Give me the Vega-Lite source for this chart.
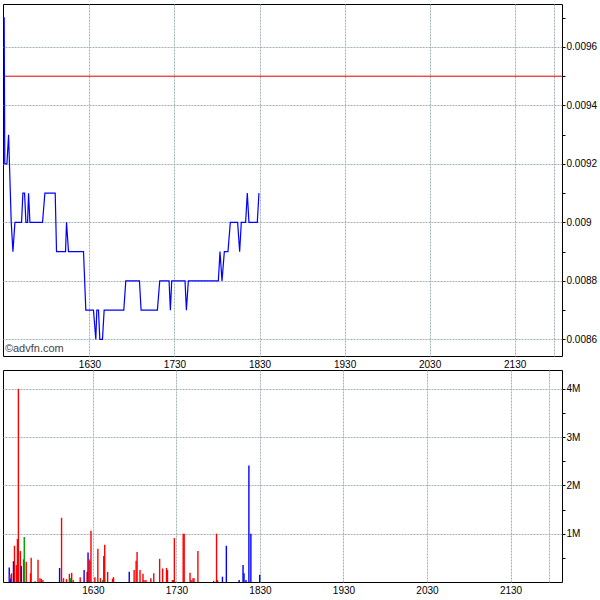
{
  "$schema": "https://vega.github.io/schema/vega-lite/v6.json",
  "padding": {"left": 0, "top": 3, "right": 0, "bottom": 0},
  "background": "white",
  "spacing": -1,
  "config": {
    "view": {"stroke": "#000", "strokeWidth": 1},
    "font": "Liberation Sans",
    "axis": {
      "labelFont": "Liberation Sans", "labelFontSize": 10, "labelColor": "#000",
      "domain": false, "gridColor": "#9fb3b3", "gridDash": [2, 1], "gridWidth": 1,
      "tickColor": "#000", "title": null
    }
  },
  "datasets": {
    "price": [
      {"t": "2024-01-02T15:29:20", "p": 0.0097},
      {"t": "2024-01-02T15:29:50", "p": 0.0097},
      {"t": "2024-01-02T15:30:15", "p": 0.0092},
      {"t": "2024-01-02T15:31:46", "p": 0.0092},
      {"t": "2024-01-02T15:32:56", "p": 0.0093},
      {"t": "2024-01-02T15:34:49", "p": 0.009},
      {"t": "2024-01-02T15:36:00", "p": 0.0089},
      {"t": "2024-01-02T15:37:25", "p": 0.009},
      {"t": "2024-01-02T15:42:06", "p": 0.009},
      {"t": "2024-01-02T15:43:02", "p": 0.0091},
      {"t": "2024-01-02T15:44:13", "p": 0.0091},
      {"t": "2024-01-02T15:45:10", "p": 0.009},
      {"t": "2024-01-02T15:46:20", "p": 0.009},
      {"t": "2024-01-02T15:47:02", "p": 0.0091},
      {"t": "2024-01-02T15:47:59", "p": 0.009},
      {"t": "2024-01-02T15:56:54", "p": 0.009},
      {"t": "2024-01-02T15:58:33", "p": 0.0091},
      {"t": "2024-01-02T16:05:50", "p": 0.0091},
      {"t": "2024-01-02T16:06:46", "p": 0.0089},
      {"t": "2024-01-02T16:13:07", "p": 0.0089},
      {"t": "2024-01-02T16:13:49", "p": 0.009},
      {"t": "2024-01-02T16:15:13", "p": 0.0089},
      {"t": "2024-01-02T16:25:48", "p": 0.0089},
      {"t": "2024-01-02T16:27:26", "p": 0.0087},
      {"t": "2024-01-02T16:32:50", "p": 0.0087},
      {"t": "2024-01-02T16:34:29", "p": 0.0086},
      {"t": "2024-01-02T16:35:11", "p": 0.0087},
      {"t": "2024-01-02T16:36:22", "p": 0.0087},
      {"t": "2024-01-02T16:37:19", "p": 0.0086},
      {"t": "2024-01-02T16:39:11", "p": 0.0086},
      {"t": "2024-01-02T16:40:22", "p": 0.0087},
      {"t": "2024-01-02T16:54:13", "p": 0.0087},
      {"t": "2024-01-02T16:55:38", "p": 0.0088},
      {"t": "2024-01-02T17:05:16", "p": 0.0088},
      {"t": "2024-01-02T17:06:26", "p": 0.0087},
      {"t": "2024-01-02T17:17:56", "p": 0.0087},
      {"t": "2024-01-02T17:19:35", "p": 0.0088},
      {"t": "2024-01-02T17:26:10", "p": 0.0088},
      {"t": "2024-01-02T17:27:06", "p": 0.0087},
      {"t": "2024-01-02T17:28:02", "p": 0.0088},
      {"t": "2024-01-02T17:37:26", "p": 0.0088},
      {"t": "2024-01-02T17:38:23", "p": 0.0087},
      {"t": "2024-01-02T17:39:47", "p": 0.0088},
      {"t": "2024-01-02T18:00:56", "p": 0.0088},
      {"t": "2024-01-02T18:02:06", "p": 0.0089},
      {"t": "2024-01-02T18:03:31", "p": 0.0088},
      {"t": "2024-01-02T18:05:10", "p": 0.0089},
      {"t": "2024-01-02T18:07:44", "p": 0.0089},
      {"t": "2024-01-02T18:09:23", "p": 0.009},
      {"t": "2024-01-02T18:14:33", "p": 0.009},
      {"t": "2024-01-02T18:15:58", "p": 0.0089},
      {"t": "2024-01-02T18:17:08", "p": 0.009},
      {"t": "2024-01-02T18:20:11", "p": 0.009},
      {"t": "2024-01-02T18:21:22", "p": 0.0091},
      {"t": "2024-01-02T18:22:32", "p": 0.009},
      {"t": "2024-01-02T18:28:25", "p": 0.009},
      {"t": "2024-01-02T18:29:35", "p": 0.0091}
    ],
    "refline": [{"p": 0.0095}],
    "credit": [{"t": "2024-01-02T15:30:20", "p": 0.008567, "label": "©advfn.com"}],
    "volume": [
      {"t": "2024-01-02T15:29:53", "v": 300000, "dir": "up"},
      {"t": "2024-01-02T15:30:22", "v": 150000, "dir": "down"},
      {"t": "2024-01-02T15:30:50", "v": 70000, "dir": "up"},
      {"t": "2024-01-02T15:31:32", "v": 180000, "dir": "down"},
      {"t": "2024-01-02T15:32:56", "v": 430000, "dir": "up"},
      {"t": "2024-01-02T15:33:39", "v": 750000, "dir": "down"},
      {"t": "2024-01-02T15:35:04", "v": 350000, "dir": "down"},
      {"t": "2024-01-02T15:35:46", "v": 890000, "dir": "down"},
      {"t": "2024-01-02T15:36:28", "v": 4000000, "dir": "down"},
      {"t": "2024-01-02T15:37:53", "v": 640000, "dir": "down"},
      {"t": "2024-01-02T15:38:35", "v": 330000, "dir": "up"},
      {"t": "2024-01-02T15:40:13", "v": 470000, "dir": "down"},
      {"t": "2024-01-02T15:40:41", "v": 930000, "dir": "flat"},
      {"t": "2024-01-02T15:42:06", "v": 420000, "dir": "down"},
      {"t": "2024-01-02T15:45:10", "v": 180000, "dir": "down"},
      {"t": "2024-01-02T15:45:38", "v": 500000, "dir": "down"},
      {"t": "2024-01-02T15:48:27", "v": 15000, "dir": "down"},
      {"t": "2024-01-02T15:50:34", "v": 460000, "dir": "down"},
      {"t": "2024-01-02T15:51:58", "v": 80000, "dir": "down"},
      {"t": "2024-01-02T15:52:55", "v": 60000, "dir": "down"},
      {"t": "2024-01-02T15:54:05", "v": 40000, "dir": "down"},
      {"t": "2024-01-02T16:06:04", "v": 290000, "dir": "up"},
      {"t": "2024-01-02T16:07:28", "v": 1330000, "dir": "down"},
      {"t": "2024-01-02T16:08:53", "v": 80000, "dir": "down"},
      {"t": "2024-01-02T16:11:00", "v": 60000, "dir": "down"},
      {"t": "2024-01-02T16:13:07", "v": 170000, "dir": "down"},
      {"t": "2024-01-02T16:13:49", "v": 80000, "dir": "flat"},
      {"t": "2024-01-02T16:14:45", "v": 190000, "dir": "down"},
      {"t": "2024-01-02T16:15:56", "v": 40000, "dir": "down"},
      {"t": "2024-01-02T16:20:52", "v": 100000, "dir": "down"},
      {"t": "2024-01-02T16:23:41", "v": 250000, "dir": "up"},
      {"t": "2024-01-02T16:25:48", "v": 210000, "dir": "down"},
      {"t": "2024-01-02T16:26:30", "v": 610000, "dir": "up"},
      {"t": "2024-01-02T16:27:12", "v": 470000, "dir": "down"},
      {"t": "2024-01-02T16:27:55", "v": 440000, "dir": "down"},
      {"t": "2024-01-02T16:28:37", "v": 1060000, "dir": "down"},
      {"t": "2024-01-02T16:31:26", "v": 100000, "dir": "down"},
      {"t": "2024-01-02T16:33:33", "v": 690000, "dir": "down"},
      {"t": "2024-01-02T16:35:26", "v": 80000, "dir": "down"},
      {"t": "2024-01-02T16:37:04", "v": 40000, "dir": "flat"},
      {"t": "2024-01-02T16:37:47", "v": 540000, "dir": "down"},
      {"t": "2024-01-02T16:38:29", "v": 770000, "dir": "down"},
      {"t": "2024-01-02T16:40:35", "v": 210000, "dir": "down"},
      {"t": "2024-01-02T16:44:07", "v": 70000, "dir": "down"},
      {"t": "2024-01-02T16:44:49", "v": 100000, "dir": "down"},
      {"t": "2024-01-02T16:56:06", "v": 210000, "dir": "up"},
      {"t": "2024-01-02T16:59:37", "v": 250000, "dir": "down"},
      {"t": "2024-01-02T17:01:02", "v": 440000, "dir": "down"},
      {"t": "2024-01-02T17:01:44", "v": 620000, "dir": "down"},
      {"t": "2024-01-02T17:03:51", "v": 250000, "dir": "down"},
      {"t": "2024-01-02T17:05:58", "v": 170000, "dir": "down"},
      {"t": "2024-01-02T17:06:40", "v": 40000, "dir": "down"},
      {"t": "2024-01-02T17:08:05", "v": 40000, "dir": "down"},
      {"t": "2024-01-02T17:11:36", "v": 80000, "dir": "down"},
      {"t": "2024-01-02T17:13:43", "v": 180000, "dir": "down"},
      {"t": "2024-01-02T17:17:56", "v": 480000, "dir": "down"},
      {"t": "2024-01-02T17:20:04", "v": 280000, "dir": "down"},
      {"t": "2024-01-02T17:22:53", "v": 290000, "dir": "down"},
      {"t": "2024-01-02T17:23:35", "v": 250000, "dir": "down"},
      {"t": "2024-01-02T17:27:06", "v": 40000, "dir": "down"},
      {"t": "2024-01-02T17:27:49", "v": 40000, "dir": "down"},
      {"t": "2024-01-02T17:28:31", "v": 910000, "dir": "down"},
      {"t": "2024-01-02T17:34:52", "v": 1000000, "dir": "down"},
      {"t": "2024-01-02T17:35:34", "v": 1000000, "dir": "down"},
      {"t": "2024-01-02T17:39:47", "v": 190000, "dir": "down"},
      {"t": "2024-01-02T17:40:30", "v": 40000, "dir": "down"},
      {"t": "2024-01-02T17:41:54", "v": 80000, "dir": "down"},
      {"t": "2024-01-02T17:42:37", "v": 80000, "dir": "down"},
      {"t": "2024-01-02T17:45:26", "v": 640000, "dir": "down"},
      {"t": "2024-01-02T17:56:42", "v": 25000, "dir": "down"},
      {"t": "2024-01-02T17:58:49", "v": 1000000, "dir": "down"},
      {"t": "2024-01-02T17:59:31", "v": 40000, "dir": "down"},
      {"t": "2024-01-02T18:03:03", "v": 110000, "dir": "up"},
      {"t": "2024-01-02T18:05:52", "v": 750000, "dir": "up"},
      {"t": "2024-01-02T18:15:02", "v": 40000, "dir": "up"},
      {"t": "2024-01-02T18:17:51", "v": 350000, "dir": "up"},
      {"t": "2024-01-02T18:18:33", "v": 180000, "dir": "up"},
      {"t": "2024-01-02T18:19:58", "v": 40000, "dir": "up"},
      {"t": "2024-01-02T18:22:04", "v": 2410000, "dir": "up"},
      {"t": "2024-01-02T18:23:29", "v": 1000000, "dir": "up"},
      {"t": "2024-01-02T18:29:50", "v": 150000, "dir": "up"}
    ]
  },
  "vconcat": [
    {
      "width": 559,
      "height": 352,
      "encoding": {
        "x": {
          "field": "t", "type": "temporal",
          "scale": {"domain": [
            {"year": 2024, "month": 1, "date": 2, "hours": 15, "minutes": 29},
            {"year": 2024, "month": 1, "date": 2, "hours": 22, "minutes": 3, "seconds": 24}
          ]},
          "axis": {
            "orient": "bottom", "ticks": false, "tickSize": 0, "labelPadding": 3,
            "values": [
              {"year": 2024, "month": 1, "date": 2, "hours": 16, "minutes": 30},
              {"year": 2024, "month": 1, "date": 2, "hours": 17, "minutes": 30},
              {"year": 2024, "month": 1, "date": 2, "hours": 18, "minutes": 30},
              {"year": 2024, "month": 1, "date": 2, "hours": 19, "minutes": 30},
              {"year": 2024, "month": 1, "date": 2, "hours": 20, "minutes": 30},
              {"year": 2024, "month": 1, "date": 2, "hours": 21, "minutes": 30},
              {"year": 2024, "month": 1, "date": 2, "hours": 21, "minutes": 58}
            ],
            "labelExpr": "minutes(datum.value) == 58 ? '' : timeFormat(datum.value, '%H%M')"
          }
        },
        "y": {
          "type": "quantitative",
          "scale": {"domain": [0.008543, 0.009747], "zero": false, "nice": false},
          "axis": {
            "orient": "right",
            "values": [0.0086, 0.0087, 0.0088, 0.0089, 0.009, 0.0091, 0.0092, 0.0093, 0.0094, 0.0095, 0.0096, 0.0097],
            "labelExpr": "round(datum.value * 10000) % 2 == 0 ? format(datum.value, '.2~r') : ''",
            "gridOpacity": {"condition": {"test": "round(datum.value * 10000) % 2 == 1", "value": 0}, "value": 1},
            "tickSize": 3,
            "labelPadding": 1
          }
        }
      },
      "layer": [
        {
          "data": {"name": "refline"},
          "mark": {"type": "rule", "color": "#e00000", "strokeWidth": 1},
          "encoding": {"y": {"field": "p", "type": "quantitative"}, "x": null}
        },
        {
          "data": {"name": "price"},
          "mark": {"type": "line", "color": "#0000ff", "strokeWidth": 1.2, "interpolate": "linear"},
          "encoding": {"y": {"field": "p", "type": "quantitative"}}
        },
        {
          "data": {"name": "credit"},
          "mark": {"type": "text", "align": "left", "baseline": "middle", "fontSize": 11, "color": "#444", "font": "Liberation Sans"},
          "encoding": {"y": {"field": "p", "type": "quantitative"}, "text": {"field": "label"}}
        }
      ]
    },
    {
      "width": 559,
      "height": 212,
      "data": {"name": "volume"},
      "mark": {"type": "bar", "size": 1.4},
      "encoding": {
        "x": {
          "field": "t", "type": "temporal",
          "scale": {"domain": [
            {"year": 2024, "month": 1, "date": 2, "hours": 15, "minutes": 29},
            {"year": 2024, "month": 1, "date": 2, "hours": 22, "minutes": 3, "seconds": 24}
          ]},
          "axis": {
            "orient": "bottom", "ticks": false, "tickSize": 0, "labelPadding": 3,
            "values": [
              {"year": 2024, "month": 1, "date": 2, "hours": 16, "minutes": 30},
              {"year": 2024, "month": 1, "date": 2, "hours": 17, "minutes": 30},
              {"year": 2024, "month": 1, "date": 2, "hours": 18, "minutes": 30},
              {"year": 2024, "month": 1, "date": 2, "hours": 19, "minutes": 30},
              {"year": 2024, "month": 1, "date": 2, "hours": 20, "minutes": 30},
              {"year": 2024, "month": 1, "date": 2, "hours": 21, "minutes": 30},
              {"year": 2024, "month": 1, "date": 2, "hours": 21, "minutes": 58}
            ],
            "labelExpr": "minutes(datum.value) == 58 ? '' : timeFormat(datum.value, '%H%M')"
          }
        },
        "y": {
          "field": "v", "type": "quantitative", "stack": null,
          "scale": {"domain": [0, 4390000], "nice": false},
          "axis": {
            "orient": "right",
            "values": [500000, 1000000, 1500000, 2000000, 2500000, 3000000, 3500000, 4000000],
            "labelExpr": "datum.value % 1000000 == 0 ? (datum.value / 1000000) + 'M' : ''",
            "gridOpacity": {"condition": {"test": "datum.value % 1000000 != 0", "value": 0}, "value": 1},
            "tickSize": 3,
            "labelPadding": 1
          }
        },
        "color": {
          "field": "dir", "type": "nominal",
          "scale": {"domain": ["down", "up", "flat"], "range": ["#ff0000", "#0000ff", "#00a000"]},
          "legend": null
        }
      }
    }
  ]
}
